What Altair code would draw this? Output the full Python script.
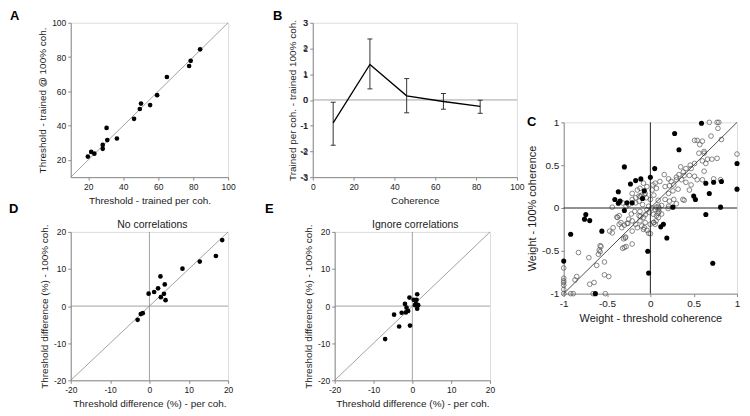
import altair as alt
import pandas as pd

FONT = "Liberation Sans"
GRAY = "#8a8a8a"
TXT = "#1a1a1a"

# ---------------- Panel A ----------------
a_per_coh = [19.8, 21.7, 23.5, 28.3, 28.3, 30.5, 30.9, 36.4, 46.2, 49.5, 50.2, 55.4, 59.4, 65.0, 77.7, 78.6, 84.0]
a_at_100 = [22.0, 24.7, 23.7, 28.8, 26.5, 38.7, 31.6, 32.5, 44.0, 49.7, 52.9, 52.0, 57.8, 68.4, 74.8, 77.8, 84.5]
a_ticks = [20, 40, 60, 80, 100]

# ---------------- Panel B ----------------
b_coherence = [10, 28, 46, 64, 82]
b_mean = [-0.89, 1.38, 0.16, -0.06, -0.25]
b_low = [-1.76, 0.43, -0.50, -0.36, -0.52]
b_high = [-0.09, 2.37, 0.83, 0.25, -0.01]
b_xticks = [0, 20, 40, 60, 80, 100]
b_yticks = [-3, -2, -1, 0, 1, 2, 3]

# ---------------- Panel C ----------------
c_fill_x = [-0.30, 0.00, -0.11, -0.17, -0.23, -0.07, -0.37, -0.41, -0.35, -0.37, -0.27, -0.21, -0.09,
            0.59, 0.28, 0.33, 0.05, 1.00, 1.00, 0.64, 0.73, 0.82, 0.68, 0.50, 0.52, 0.26, 0.81,
            0.64, 0.15, 0.12, 0.19, 0.72,
            -0.30, -0.745, -0.76, -0.70, -0.92, -0.56, -0.03, -0.02, -1.00, -0.635]
c_fill_y = [0.48, 0.36, 0.34, 0.32, 0.28, 0.20, 0.19, 0.10, 0.08, 0.055, 0.06, 0.06, 0.11,
            0.99, 0.87, 0.68, 0.46, 0.52, 0.22, 0.29, 0.30, 0.31, 0.17, 0.14, 0.10, 0.01, 0.01,
            -0.075, -0.19, -0.22, -0.35, -0.645,
            -0.03, -0.075, -0.13, -0.147, -0.306, -0.27, -0.505, -0.76, -0.62, -1.00]
c_open_x = [0.68, 0.77, 0.79, 0.78, 0.70, 0.82, 0.51, 0.54, 0.60, 0.57, 1.00, 0.62, 0.56, 0.62, 0.66, 0.71,
            0.77, 0.60, 0.64, 0.62, 0.51, 0.46, 0.41, 0.47, 0.35, 0.38, 0.33, 0.30, 0.39, 0.45, 0.51, 0.54,
            0.60, 0.73, 0.81, 0.41, 0.47, 0.45, 0.36, 0.30, 0.24, 0.16, 0.21, 0.11, 0.055, 0.07, 0.17, 0.22,
            0.27, 0.32, 0.26, 0.21, 0.375, 0.39, 0.17, 0.09, 0.22, 0.27, 0.30, 0.21, 0.13, 0.09, 0.07, 0.04,
            0.02, 0.00, 0.10, 0.09, 0.13, 0.07, 0.04, 0.055, 0.00, -0.02, -0.04, -0.06, -0.08,
            -0.06, -0.10, -0.13, -0.17, -0.21, -0.15, -0.12, -0.04, -0.08, -0.25, -0.28, -0.32, -0.44,
            -0.21, -0.17, -0.13, -0.115, -0.07, -0.047, -0.09,
            -0.36, -0.34, -0.30, -0.27, -0.38, -0.33, -0.36, -0.25, -0.21, -0.17, -0.13, -0.12, -0.10,
            -0.08, -0.15, -0.21, -0.29, -0.31, -0.30, -0.32, -0.21, -0.43, -0.47, -0.58, -0.59, -0.60,
            -0.53, -0.62, -0.71, -0.83, -0.53, -0.48, -0.85, -0.87, -1.00, -1.00, -1.00, -1.00, -1.00,
            -1.00, -1.00, -0.92, -0.89, -0.66, -0.52, -0.70,
            -0.386, -0.26, -0.22, -0.18, -0.12, -0.115, -0.06, -0.07, -0.04, -0.44, -0.285, -0.28,
            -0.57, -0.58, -0.65, 0.017, 0.055, 0.092, 0.036, 0.10, 0.092, 0.066, 0.036, -0.002,
            -0.02, 0.205, 0.03, -0.01]
c_open_y = [1.00, 1.00, 1.00, 0.93, 0.84, 0.80, 0.79, 0.79, 0.78, 0.74, 0.63, 0.66, 0.64, 0.64, 0.57, 0.57,
            0.58, 0.55, 0.52, 0.43, 0.52, 0.50, 0.46, 0.46, 0.48, 0.42, 0.39, 0.36, 0.38, 0.38, 0.37, 0.33,
            0.33, 0.34, 0.33, 0.30, 0.27, 0.21, 0.33, 0.33, 0.31, 0.39, 0.34, 0.31, 0.29, 0.23, 0.25, 0.26,
            0.27, 0.22, 0.20, 0.17, 0.10, 0.09, 0.10, 0.09, 0.08, 0.10, 0.05, 0.02, 0.03, -0.02, 0.01, 0.15,
            0.21, 0.10, 0.00, -0.06, -0.07, -0.09, -0.17, -0.19, -0.30, 0.02, -0.02, -0.08, -0.11,
            0.17, 0.15, 0.14, 0.12, 0.17, 0.21, 0.23, 0.25, 0.29, 0.04, 0.02, 0.06, 0.01,
            0.10, 0.06, 0.08, 0.135, 0.155, 0.12, 0.04,
            -0.09, -0.17, -0.20, -0.18, -0.11, -0.23, -0.19, -0.13, -0.15, -0.19, -0.09, -0.15, -0.21,
            -0.25, -0.23, -0.27, -0.35, -0.36, -0.46, -0.47, -0.42, -0.23, -0.27, -0.44, -0.49, -0.54,
            -0.63, -0.67, -0.58, -0.52, -0.78, -0.80, -0.80, -0.84, -0.70, -0.82, -0.85, -0.87, -0.90,
            -0.95, -1.00, -1.00, -1.00, -1.00, -1.00, -0.89,
            -0.105, -0.18, -0.07, -0.04, -0.04, -0.10, -0.17, -0.23, -0.26, -0.29, -0.34, -0.45,
            -0.45, -0.51, -0.87, 0.002, -0.017, 0.02, -0.074, -0.044, -0.112, -0.15, -0.17, -0.19,
            -0.295, -0.006, 0.27, -0.05]
c_ticks = [-1, -0.5, 0, 0.5, 1]

# ---------------- Panel D ----------------
d_per_coh = [-3.0, -2.2, -1.7, -0.2, 1.2, 2.2, 2.8, 2.9, 3.9, 3.7, 4.1, 8.4, 12.8, 16.9, 18.5]
d_at_100 = [-3.7, -2.15, -1.9, 3.35, 3.8, 4.8, 8.0, 2.4, 5.85, 3.3, 1.6, 10.1, 12.0, 13.5, 17.8]

# ---------------- Panel E ----------------
e_per_coh = [-7.0, -3.4, -0.6, -4.7, -2.75, -1.67, -1.08, -1.5, -1.9, -0.75, 0.33, 1.08, 1.25, 0.67, 1.08, 1.5, 1.25, 0.9]
e_at_100 = [-8.9, -5.5, -5.25, -2.3, -1.8, -1.7, -1.3, -0.43, 0.6, 2.3, 1.7, 1.7, 3.2, 0.26, 0.43, 0.26, -0.7, 0.6]
de_ticks = [-20, -10, 0, 10, 20]


def axis(values, title, lsize=8.5, tsize=10, tpad=4, labels=True):
    return alt.Axis(values=values, title=title, grid=False, domainColor=GRAY, tickColor=GRAY,
                    tickSize=3, labelFontSize=lsize, titleFontSize=tsize, titleFontWeight="normal",
                    labelColor=TXT, titleColor=TXT, labelFont=FONT, titleFont=FONT, labelPadding=2,
                    titlePadding=tpad, labelFlush=False, labelOverlap=False, labels=labels,
                    labelExpr="toString(datum.value)")


def text_label(t, dx, dy, size=13, bold=True, align="left"):
    return alt.Chart(pd.DataFrame({"t": [t]})).mark_text(
        align=align, baseline="alphabetic", fontSize=size, fontWeight="bold" if bold else "normal",
        font=FONT, color="black" if bold else TXT
    ).encode(text="t:N", x=alt.value(dx), y=alt.value(dy))


# ---- A ----
sA = alt.Scale(domain=[10, 100], nice=False, zero=False)
XA = alt.X("x:Q", scale=sA, axis=axis(a_ticks, "Threshold - trained per coh.", tpad=5))
YA = alt.Y("y:Q", scale=sA, axis=axis(a_ticks, "Threshold - trained @ 100% coh."))
A = alt.layer(
    alt.Chart(pd.DataFrame({"x": [10, 100], "y": [10, 100]})).mark_line(color=GRAY, strokeWidth=0.8).encode(x=XA, y=YA),
    alt.Chart(pd.DataFrame({"x": a_per_coh, "y": a_at_100})).mark_circle(color="black", size=22, opacity=1).encode(x=XA, y=YA),
    text_label("A", -61, -3),
).properties(width=158, height=155)

# ---- B ----
sBx = alt.Scale(domain=[0, 100], nice=False)
sBy = alt.Scale(domain=[-3, 3], nice=False)
XB = alt.X("x:Q", scale=sBx, axis=axis(b_xticks, "Coherence", tpad=5))
YB = alt.Y("y:Q", scale=sBy, axis=axis(b_yticks, "Trained per coh. - trained 100% coh.", tpad=3))
whisk_df = pd.DataFrame({"x": b_coherence + b_coherence, "y": b_low + b_high,
                         "g": list(range(len(b_coherence))) * 2})
mean_df = pd.DataFrame({"x": b_coherence, "y": b_mean})
ylab_df = pd.DataFrame({"y": b_yticks, "lab": [str(v) for v in b_yticks]})
B = alt.layer(
    alt.Chart(pd.DataFrame({"x": [0, 100], "y": [0, 0]})).mark_line(color=GRAY, strokeWidth=0.8).encode(x=XB, y=YB),
    alt.Chart(whisk_df).mark_line(color="#333", strokeWidth=1).encode(x=XB, y=YB, detail="g:N"),
    alt.Chart(whisk_df).mark_point(shape="stroke", size=25, color="#333", strokeWidth=1, opacity=1).encode(x=XB, y=YB),
    alt.Chart(mean_df).mark_line(color="black", strokeWidth=1.3).encode(x=XB, y=YB),
    alt.Chart(ylab_df).mark_text(align="right", baseline="middle", fontSize=8.5, font=FONT, color=TXT).encode(
        y=YB, x=alt.value(-5), text="lab:N"),
    text_label("B", -40, -3),
).properties(width=205, height=155)

# ---- C ----
sC = alt.Scale(domain=[-1, 1], nice=False)
XC = alt.X("x:Q", scale=sC, axis=axis(c_ticks, "Weight - threshold coherence", lsize=10, tsize=11, tpad=4))
YC = alt.Y("y:Q", scale=sC, axis=axis(c_ticks, "Weight - 100% coherence", lsize=10, tsize=11, tpad=4))
C = alt.layer(
    alt.Chart(pd.DataFrame({"x": c_open_x, "y": c_open_y})).mark_point(shape="circle", filled=False, size=22, color="#555", strokeWidth=0.7, opacity=1).encode(x=XC, y=YC),
    alt.Chart(pd.DataFrame({"x": [0]})).mark_rule(color="#222", strokeWidth=1).encode(x=XC),
    alt.Chart(pd.DataFrame({"y": [0]})).mark_rule(color="#222", strokeWidth=1).encode(y=YC),
    alt.Chart(pd.DataFrame({"x": [-1, 1], "y": [-1, 1]})).mark_line(color="#222", strokeWidth=0.8).encode(x=XC, y=YC),
    alt.Chart(pd.DataFrame({"x": c_fill_x, "y": c_fill_y})).mark_circle(color="black", size=26, opacity=1).encode(x=XC, y=YC),
    text_label("C", -37, 4),
).properties(width=174, height=172)


# ---- D / E ----
def diff_panel(xs, ys, ttl, lab, ldx, w, h):
    s = alt.Scale(domain=[-20, 20], nice=False)
    X = alt.X("x:Q", scale=s, axis=axis(de_ticks, "Threshold difference (%) - per coh.", tpad=5))
    Y = alt.Y("y:Q", scale=s, axis=axis(de_ticks, "Threshold difference (%) - 100% coh."))
    return alt.layer(
        alt.Chart(pd.DataFrame({"x": [0]})).mark_rule(color=GRAY, strokeWidth=0.8).encode(x=X),
        alt.Chart(pd.DataFrame({"y": [0]})).mark_rule(color=GRAY, strokeWidth=0.8).encode(y=Y),
        alt.Chart(pd.DataFrame({"x": [-20, 20], "y": [-20, 20]})).mark_line(color=GRAY, strokeWidth=0.8).encode(x=X, y=Y),
        alt.Chart(pd.DataFrame({"x": xs, "y": ys})).mark_circle(color="black", size=22, opacity=1).encode(x=X, y=Y),
        text_label(lab, ldx, -19),
        text_label(ttl, w / 2 + 3, -4, size=10.5, bold=False, align="center"),
    ).properties(width=w, height=h)


D = diff_panel(d_per_coh, d_at_100, "No correlations", "D", -62, 158, 149)
E = diff_panel(e_per_coh, e_at_100, "Ignore correlations", "E", -70, 156, 149)

spacer = alt.Chart(pd.DataFrame({"v": [0]})).mark_point(opacity=0, size=1).encode(
    x=alt.X("v:Q", axis=None), y=alt.Y("v:Q", axis=None)
).properties(width=10, height=93, view=alt.ViewBackground(stroke=None, fill=None))

row1 = alt.hconcat(A, B, spacing=36)
row2 = alt.hconcat(D, E, spacing=30)
left = alt.vconcat(row1, row2, spacing=-4)
right = alt.vconcat(spacer, C, spacing=0)
chart = alt.hconcat(left, right, spacing=1).properties(padding=0).configure_view(stroke=None).configure(background="white")

chart.save("out.html", embed_options={"renderer": "svg", "actions": False})
